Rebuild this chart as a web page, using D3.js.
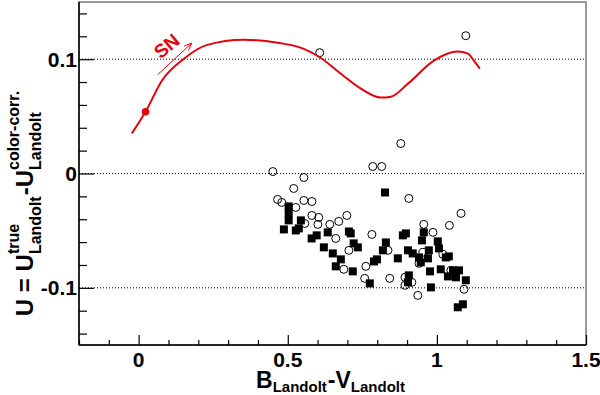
<!DOCTYPE html>
<html>
<head>
<meta charset="utf-8">
<script src="https://cdn.jsdelivr.net/npm/d3@7"></script>
<style>
  body { margin: 0; background: #fff; }
  text { font-family: "Liberation Sans", Arial, Helvetica, sans-serif; font-weight: bold; }
</style>
</head>
<body>
<div id="chart"></div>
<script>
// --- data ---
const curveX = [-0.023, 0.023, 0.080, 0.150, 0.230, 0.352, 0.466, 0.554, 0.611, 0.678, 0.745, 0.812, 0.846, 0.903, 0.990, 1.070, 1.104, 1.124, 1.144];
const curveY = [0.035, 0.054, 0.082, 0.100, 0.1125, 0.117, 0.1144, 0.109, 0.101, 0.0873, 0.0742, 0.0664, 0.0672, 0.0786, 0.0987, 0.1066, 0.1048, 0.0987, 0.0917];
const snPoint = [0.023, 0.054];
const arrowFrom = [0.064, 0.0865];
const arrowTo = [0.178, 0.114];

const circleX = [0.607, 1.097, 0.879, 0.450, 0.554, 0.520, 0.466, 0.480, 0.554, 0.581, 0.527, 0.581, 0.604, 0.601, 0.557, 0.641, 0.671, 0.698, 0.661, 0.705, 0.688, 0.785, 0.815, 0.906, 0.782, 0.956, 0.987, 1.042, 0.758, 0.762, 0.842, 0.893, 0.893, 0.916, 0.936, 0.953, 0.940, 1.081, 1.091, 1.020, 0.836, 1.047];
const circleY = [0.1057, 0.1205, 0.0262, 0.0017, -0.0035, -0.0131, -0.0227, -0.0253, -0.0236, -0.0245, -0.0297, -0.0367, -0.0384, -0.0445, -0.0437, -0.0445, -0.0419, -0.0367, -0.0568, -0.0672, -0.0838, 0.0061, 0.0061, -0.0218, -0.0533, -0.0445, -0.0515, -0.0454, -0.0917, -0.0812, -0.0917, -0.0908, -0.0978, -0.0952, -0.1066, -0.0690, -0.0786, -0.0349, -0.1013, -0.0707, -0.0672, -0.0847];

const squareX = [0.503, 0.503, 0.503, 0.544, 0.487, 0.527, 0.537, 0.580, 0.597, 0.634, 0.705, 0.621, 0.651, 0.678, 0.661, 0.718, 0.721, 0.735, 0.826, 0.775, 0.799, 0.819, 0.829, 0.789, 0.869, 0.886, 0.896, 0.903, 0.919, 0.940, 0.956, 0.950, 0.973, 0.970, 0.946, 0.977, 0.906, 0.903, 0.980, 1.003, 1.007, 1.030, 1.040, 1.013, 1.037, 1.064, 1.074, 1.054, 1.097, 1.070, 1.087, 0.711];
const squareY = [-0.0288, -0.0349, -0.0410, -0.0410, -0.0489, -0.0498, -0.0480, -0.0568, -0.0541, -0.0515, -0.0507, -0.0646, -0.0699, -0.0751, -0.0812, -0.0856, -0.0611, -0.0646, -0.0166, -0.0961, -0.0751, -0.0672, -0.0603, -0.0769, -0.0742, -0.0541, -0.0524, -0.0672, -0.0699, -0.0734, -0.0515, -0.0585, -0.0672, -0.0742, -0.0777, -0.0856, -0.0891, -0.0952, -0.0996, -0.0594, -0.0655, -0.0734, -0.0725, -0.0838, -0.0900, -0.0908, -0.0847, -0.0847, -0.0934, -0.1170, -0.1144, -0.0524];

const xTicks = [0, 0.5, 1, 1.5];
const xTickLabels = ['0', '0.5', '1', '1.5'];
const yTicks = [-0.1, 0, 0.1];
const yTickLabels = ['-0.1', '0', '0.1'];

// --- layout ---
const width = 600, height = 395;
const frame = { left: 79, right: 586, top: 2, bottom: 345 };

const x = d3.scaleLinear().domain([-0.2, 1.5]).range([frame.left, frame.right]);
const y = d3.scaleLinear().domain([-0.15, 0.15]).range([frame.bottom, frame.top]);

const svg = d3.select('#chart')
  .append('svg')
  .attr('width', width)
  .attr('height', height);

// frame box (top/right drawn grey like the original)
svg.append('rect')
  .attr('x', frame.left).attr('y', frame.top)
  .attr('width', frame.right - frame.left).attr('height', frame.bottom - frame.top)
  .attr('fill', 'none').attr('stroke', '#777').attr('stroke-width', 1.5);

// dotted horizontal grid at the major y ticks
svg.append('g')
  .selectAll('line')
  .data(yTicks)
  .enter()
  .append('line')
  .attr('x1', frame.left).attr('x2', frame.right)
  .attr('y1', d => y(d)).attr('y2', d => y(d))
  .attr('stroke', '#000').attr('stroke-width', 1)
  .attr('stroke-dasharray', '1,2');

// x axis: major + minor ticks, labels drawn separately
const xMinor = d3.range(-2, 16).map(i => i / 10).filter(v => !xTicks.some(t => Math.abs(t - v) < 1e-9));
svg.append('g')
  .attr('transform', `translate(0,${frame.bottom})`)
  .call(d3.axisBottom(x).tickValues(xMinor).tickSize(-5).tickFormat(''))
  .call(g => g.select('.domain').remove());
svg.append('g')
  .attr('transform', `translate(0,${frame.bottom})`)
  .call(d3.axisBottom(x).tickValues(xTicks).tickSize(-10).tickFormat(''))
  .call(g => g.select('.domain').remove());

// y axis: major + minor ticks
const yMinor = d3.range(-7, 8).map(i => i / 50).filter(v => !yTicks.some(t => Math.abs(t - v) < 1e-9));
svg.append('g')
  .attr('transform', `translate(${frame.left},0)`)
  .call(d3.axisLeft(y).tickValues(yMinor).tickSize(-8).tickFormat(''))
  .call(g => g.select('.domain').remove());
svg.append('g')
  .attr('transform', `translate(${frame.left},0)`)
  .call(d3.axisLeft(y).tickValues(yTicks).tickSize(-15).tickFormat(''))
  .call(g => g.select('.domain').remove());

svg.selectAll('.tick line').attr('stroke', '#000').attr('stroke-width', 1.2);

// axis lines (left & bottom black)
svg.append('line')
  .attr('x1', frame.left).attr('x2', frame.left).attr('y1', frame.top).attr('y2', frame.bottom)
  .attr('stroke', '#000').attr('stroke-width', 1.5);
svg.append('line')
  .attr('x1', frame.left).attr('x2', frame.right).attr('y1', frame.bottom).attr('y2', frame.bottom)
  .attr('stroke', '#000').attr('stroke-width', 1.5);

// tick labels
svg.append('g')
  .selectAll('text')
  .data(xTicks)
  .enter()
  .append('text')
  .attr('x', d => x(d)).attr('y', 367)
  .attr('text-anchor', 'middle')
  .attr('font-size', 21)
  .text((d, i) => xTickLabels[i]);

svg.append('g')
  .selectAll('text')
  .data(yTicks)
  .enter()
  .append('text')
  .attr('x', 77).attr('y', d => y(d) + 7.5)
  .attr('text-anchor', 'end')
  .attr('font-size', 21)
  .text((d, i) => yTickLabels[i]);

// --- markers ---
const plot = svg.append('g');

const circles = circleX.map((v, i) => ({ x: v, y: circleY[i] }));
plot.selectAll('circle.open')
  .data(circles)
  .enter()
  .append('circle')
  .attr('class', 'open')
  .attr('cx', d => x(d.x)).attr('cy', d => y(d.y))
  .attr('r', 4)
  .attr('fill', 'none').attr('stroke', '#000').attr('stroke-width', 1);

const sq = 8; // square size in px
const squares = squareX.map((v, i) => ({ x: v, y: squareY[i] }));
plot.selectAll('rect.full')
  .data(squares)
  .enter()
  .append('rect')
  .attr('class', 'full')
  .attr('x', d => x(d.x) - sq / 2).attr('y', d => y(d.y) - sq / 2)
  .attr('width', sq).attr('height', sq)
  .attr('fill', '#000');

// --- SN colour track ---
const red = '#e8000b';
const line = d3.line()
  .x(d => x(d[0]))
  .y(d => y(d[1]))
  .curve(d3.curveMonotoneX);

plot.append('path')
  .attr('d', line(curveX.map((v, i) => [v, curveY[i]])))
  .attr('fill', 'none').attr('stroke', red).attr('stroke-width', 2);

plot.append('circle')
  .attr('cx', x(snPoint[0])).attr('cy', y(snPoint[1]))
  .attr('r', 3.8)
  .attr('fill', red);

// arrow + label
const ax0 = x(arrowFrom[0]), ay0 = y(arrowFrom[1]);
const ax1 = x(arrowTo[0]), ay1 = y(arrowTo[1]);
const ang = Math.atan2(ay1 - ay0, ax1 - ax0);
const head = 8, spread = 0.4;
plot.append('path')
  .attr('d', `M${ax0},${ay0}L${ax1},${ay1}` +
    `M${ax1 - head * Math.cos(ang - spread)},${ay1 - head * Math.sin(ang - spread)}L${ax1},${ay1}` +
    `L${ax1 - head * Math.cos(ang + spread)},${ay1 - head * Math.sin(ang + spread)}`)
  .attr('fill', 'none').attr('stroke', red).attr('stroke-width', 1);

plot.append('text')
  .attr('transform', `translate(${x(0.094)},${y(0.1115)}) rotate(-40)`)
  .attr('text-anchor', 'middle')
  .attr('dy', '0.35em')
  .attr('font-size', 19)
  .attr('fill', red)
  .text('SN');

// --- axis titles built from pieces with stacked super/subscripts ---
function latexTitle(g, parts, big, small, supDy, subDy) {
  let cx = 0;
  parts.forEach(p => {
    if (p.text) {
      const t = g.append('text').attr('x', cx).attr('y', 0).attr('font-size', big).text(p.text);
      cx += t.node().getComputedTextLength();
    } else {
      let w = 0;
      if (p.sup) {
        const t = g.append('text').attr('x', cx).attr('y', supDy).attr('font-size', small).text(p.sup);
        w = Math.max(w, t.node().getComputedTextLength());
      }
      if (p.sub) {
        const t = g.append('text').attr('x', cx).attr('y', subDy).attr('font-size', small).text(p.sub);
        w = Math.max(w, t.node().getComputedTextLength());
      }
      cx += w + 1;
    }
  });
  return cx;
}

// y title (rotated)
const yTitle = svg.append('g');
const yw = latexTitle(yTitle, [
  { text: 'U = U' },
  { sup: 'true', sub: 'Landolt' },
  { text: '-U' },
  { sup: 'color-corr.', sub: 'Landolt' }
], 24, 16, -14, 8);
yTitle.attr('transform', `translate(33,${203 + yw / 2}) rotate(-90)`);

// x title
const xTitle = svg.append('g');
const xw = latexTitle(xTitle, [
  { text: 'B' },
  { sub: 'Landolt' },
  { text: '-V' },
  { sub: 'Landolt' }
], 23, 15, -13, 4);
xTitle.attr('transform', `translate(${331 - xw / 2},388)`);
</script>
</body>
</html>
